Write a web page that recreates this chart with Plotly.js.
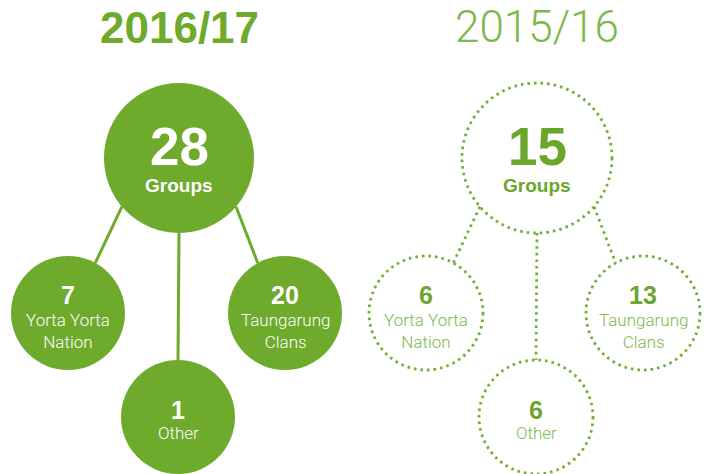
<!DOCTYPE html>
<html>
<head>
<meta charset="utf-8">
<script src="https://cdn.plot.ly/plotly-3.0.1.min.js"></script>
<style>html,body{margin:0;padding:0;background:#fff;}#chart{width:707px;height:474px;}</style>
</head>
<body>
<div id="chart"></div>
<script>
// ---- data ----
const years = ['2016/17', '2015/16'];
const totals = [28, 15];
const totalLabel = 'Groups';
const categories = ['Yorta Yorta<br>Nation', 'Taungarung<br>Clans', 'Other'];
const values2016 = [7, 20, 1];
const values2015 = [6, 13, 6];

// ---- layout constants ----
const W = 707, H = 474;
const treeX = [179, 537];
const titleY = 27;
const parentY = 158, parentR = 75;
const childDX = [-111, 106, -1];
const childDY = [155, 155, 259];
const childR = 57;
const parentAng = [139.5, 40.5, 90];   // degrees, y down
const childAng = [-61.4, -118.6, -90];
const GREEN = '#6eaa2c';
const DOT_GREEN = '#72b035';
const LIGHT_GREEN = '#7cb94a';
const FONT = 'Liberation Sans, Arial, sans-serif';
const LIGHT_FONT = 'Roboto, Lato, sans-serif';

const shapes = [];
const annotations = [];
const seriesValues = [values2016, values2015];

function pt(cx, cy, r, deg) {
  const a = deg * Math.PI / 180;
  return [cx + r * Math.cos(a), cy + r * Math.sin(a)];
}

years.forEach((yr, t) => {
  const solid = t === 0;
  const cx = treeX[t];
  const line = solid ? {color: GREEN, width: 3} : {color: DOT_GREEN, width: 2.8, dash: '2.6px,4px'};
  const circLine = solid ? {width: 0} : {color: DOT_GREEN, width: 2.8, dash: '2.6px,4px'};
  const fill = solid ? GREEN : 'rgba(0,0,0,0)';
  const numColor = solid ? '#ffffff' : '#6aa62b';
  const lblColor = solid ? '#ffffff' : LIGHT_GREEN;

  // title
  annotations.push({
    x: cx, y: titleY, xref: 'x', yref: 'y', showarrow: false,
    text: yr, xanchor: 'center', yanchor: 'middle',
    font: solid ? {family: FONT, size: 44, color: GREEN, weight: 700}
                : {family: LIGHT_FONT, size: 44, color: LIGHT_GREEN, weight: 300}
  });

  // connectors
  seriesValues[t].forEach((v, i) => {
    const ccx = cx + childDX[i], ccy = parentY + childDY[i];
    const p0 = pt(cx, parentY, parentR, parentAng[i]);
    const p1 = pt(ccx, ccy, childR, childAng[i]);
    shapes.push({type: 'line', xref: 'x', yref: 'y', x0: p0[0], y0: p0[1], x1: p1[0], y1: p1[1], line: line, layer: 'below'});
  });

  // parent circle
  shapes.push({type: 'circle', xref: 'x', yref: 'y',
    x0: cx - parentR, x1: cx + parentR, y0: parentY - parentR, y1: parentY + parentR,
    fillcolor: fill, line: circLine});
  annotations.push({x: cx, y: parentY - 12, xref: 'x', yref: 'y', showarrow: false,
    text: '<b>' + totals[t] + '</b>', font: {family: FONT, size: 53, color: numColor}});
  annotations.push({x: cx, y: parentY + 27, xref: 'x', yref: 'y', showarrow: false,
    text: '<b>' + totalLabel + '</b>', font: {family: FONT, size: 19, color: numColor}});

  // children
  seriesValues[t].forEach((v, i) => {
    const ccx = cx + childDX[i], ccy = parentY + childDY[i];
    shapes.push({type: 'circle', xref: 'x', yref: 'y',
      x0: ccx - childR, x1: ccx + childR, y0: ccy - childR, y1: ccy + childR,
      fillcolor: fill, line: circLine});
    const lines = categories[i].split('<br>').length;
    const numOff = lines > 1 ? -18 : -7;
    const lblOff = lines > 1 ? 18 : 16;
    annotations.push({x: ccx, y: ccy + numOff, xref: 'x', yref: 'y', showarrow: false,
      text: '<b>' + v + '</b>', font: {family: FONT, size: 25, color: numColor}});
    annotations.push({x: ccx, y: ccy + lblOff, xref: 'x', yref: 'y', showarrow: false,
      text: categories[i], font: {family: LIGHT_FONT, size: 17, color: lblColor, weight: 300}});
  });
});

const data = [{x: [0], y: [0], type: 'scatter', mode: 'markers', marker: {opacity: 0}, hoverinfo: 'skip', showlegend: false}];

const layout = {
  width: W, height: H,
  margin: {l: 0, r: 0, t: 0, b: 0},
  paper_bgcolor: '#ffffff', plot_bgcolor: '#ffffff',
  xaxis: {range: [0, W], visible: false, fixedrange: true},
  yaxis: {range: [H, 0], visible: false, fixedrange: true},
  shapes: shapes,
  annotations: annotations,
  showlegend: false
};

Plotly.newPlot('chart', data, layout, {displayModeBar: false, staticPlot: true});
</script>
</body>
</html>
